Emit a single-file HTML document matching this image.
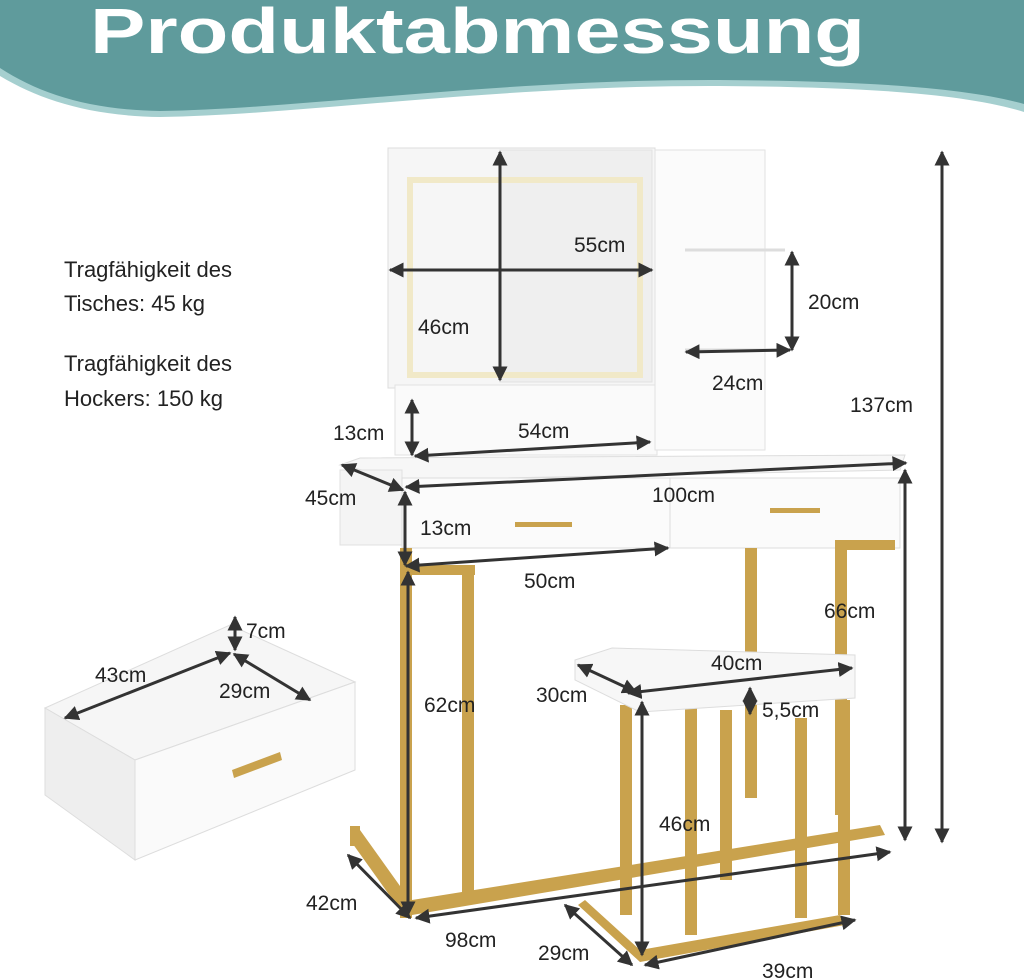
<!DOCTYPE html>
<html><head><meta charset="utf-8"><style>
html,body{margin:0;padding:0;background:#fff;}
svg{display:block;}
text{font-family:"Liberation Sans",sans-serif;fill:#222;}
</style></head><body>
<svg width="1024" height="980" viewBox="0 0 1024 980" xmlns="http://www.w3.org/2000/svg">
<defs>
<marker id="a" viewBox="0 0 10 10" refX="9" refY="5" markerWidth="5" markerHeight="5" orient="auto-start-reverse"><path d="M0,0 L10,5 L0,10 z" fill="#333"/></marker>
</defs>
<!-- banner -->
<path d="M0,76 C40,100 90,116 160,117 C300,115 500,85 720,86 C850,87 960,92 1024,112 L1024,0 L0,0 Z" fill="#a5cfcf"/>
<path d="M0,68 C40,94 90,110 160,111 C300,109 500,79 720,80 C850,81 960,86 1024,104 L1024,0 L0,0 Z" fill="#5f9b9c"/>
<text x="90" y="53" font-size="64" font-weight="bold" style="fill:#fff" textLength="775" lengthAdjust="spacingAndGlyphs">Produktabmessung</text>

<!-- mirror cabinet -->
<rect x="388" y="148" width="267" height="240" fill="#f6f6f6" stroke="#ddd"/>
<rect x="500" y="150" width="152" height="232" fill="#efefef" stroke="#e2e2e2"/>
<rect x="410" y="180" width="230" height="195" fill="none" stroke="#f1e9c8" stroke-width="6"/>
<rect x="395" y="385" width="262" height="70" fill="#fafafa" stroke="#e2e2e2"/>
<rect x="655" y="150" width="110" height="300" fill="#fbfbfb" stroke="#e2e2e2"/>
<line x1="685" y1="250" x2="785" y2="250" stroke="#ddd" stroke-width="3"/>
<line x1="685" y1="350" x2="785" y2="350" stroke="#ddd" stroke-width="3"/>
<!-- desk top -->
<polygon points="340,465 360,458 905,455 900,470 405,480" fill="#f7f7f7" stroke="#ddd"/>
<rect x="340" y="470" width="62" height="75" fill="#f4f4f4" stroke="#e0e0e0"/>
<rect x="402" y="478" width="498" height="70" fill="#fbfbfb" stroke="#ddd"/>
<line x1="670" y1="478" x2="670" y2="548" stroke="#ddd"/>
<rect x="515" y="522" width="57" height="5" fill="#c9a24d"/>
<rect x="770" y="508" width="50" height="5" fill="#c9a24d"/>
<!-- desk legs -->
<g fill="#c9a24d">
<rect x="400" y="548" width="12" height="370"/>
<rect x="462" y="570" width="12" height="330"/>
<rect x="400" y="565" width="75" height="10"/>
<rect x="745" y="548" width="12" height="250"/>
<rect x="835" y="545" width="12" height="270"/>
<rect x="835" y="540" width="60" height="10"/>
<polygon points="412,900 880,825 885,835 412,915"/>
<polygon points="360,830 410,900 400,910 350,840"/>
<rect x="350" y="826" width="10" height="20"/>
<!-- stool legs -->
<rect x="620" y="705" width="12" height="210"/>
<rect x="685" y="705" width="12" height="230"/>
<rect x="720" y="710" width="12" height="170"/>
<rect x="795" y="718" width="12" height="200"/>
<rect x="838" y="700" width="12" height="215"/>
<polygon points="585,900 640,950 840,915 845,925 640,962 578,905"/>
</g>
<!-- stool seat -->
<polygon points="575,660 612,648 855,655 855,698 640,712 575,680" fill="#f7f7f7" stroke="#ddd"/>
<!-- drawer box -->
<polygon points="45,708 230,625 355,682 135,760" fill="#f6f6f6" stroke="#ddd"/>
<polygon points="45,708 135,760 135,860 45,795" fill="#eeeeee" stroke="#ddd"/>
<polygon points="135,760 355,682 355,770 135,860" fill="#fafafa" stroke="#ddd"/>
<polygon points="232,770 280,752 282,760 234,778" fill="#c9a24d"/>

<!-- dimension lines -->
<g stroke="#333" stroke-width="3" fill="none" marker-start="url(#a)" marker-end="url(#a)">
<line x1="390" y1="270" x2="652" y2="270"/>
<line x1="500" y1="152" x2="500" y2="380"/>
<line x1="792" y1="252" x2="792" y2="350"/>
<line x1="686" y1="352" x2="790" y2="350"/>
<line x1="942" y1="152" x2="942" y2="842"/>
<line x1="412" y1="400" x2="412" y2="455"/>
<line x1="415" y1="456" x2="650" y2="442"/>
<line x1="342" y1="465" x2="403" y2="490"/>
<line x1="406" y1="487" x2="906" y2="463"/>
<line x1="405" y1="492" x2="405" y2="565"/>
<line x1="406" y1="566" x2="668" y2="548"/>
<line x1="905" y1="470" x2="905" y2="840"/>
<line x1="408" y1="572" x2="408" y2="915"/>
<line x1="348" y1="855" x2="410" y2="918"/>
<line x1="416" y1="918" x2="890" y2="852"/>
<line x1="565" y1="905" x2="632" y2="965"/>
<line x1="645" y1="965" x2="855" y2="920"/>
<line x1="642" y1="702" x2="642" y2="955"/>
<line x1="628" y1="693" x2="852" y2="668"/>
<line x1="578" y1="665" x2="636" y2="692"/>
<line x1="750" y1="688" x2="750" y2="714"/>
<line x1="235" y1="617" x2="235" y2="650"/>
<line x1="65" y1="718" x2="230" y2="653"/>
<line x1="234" y1="654" x2="310" y2="700"/>
</g>

<!-- labels -->
<g font-size="21">
<text x="574" y="252">55cm</text>
<text x="418" y="334">46cm</text>
<text x="808" y="309">20cm</text>
<text x="712" y="390">24cm</text>
<text x="850" y="412">137cm</text>
<text x="333" y="440">13cm</text>
<text x="518" y="438">54cm</text>
<text x="305" y="505">45cm</text>
<text x="652" y="502">100cm</text>
<text x="420" y="535">13cm</text>
<text x="524" y="588">50cm</text>
<text x="824" y="618">66cm</text>
<text x="246" y="638">7cm</text>
<text x="95" y="682">43cm</text>
<text x="711" y="670">40cm</text>
<text x="219" y="698">29cm</text>
<text x="536" y="702">30cm</text>
<text x="762" y="717">5,5cm</text>
<text x="424" y="712">62cm</text>
<text x="659" y="831">46cm</text>
<text x="306" y="910">42cm</text>
<text x="445" y="947">98cm</text>
<text x="538" y="960">29cm</text>
<text x="762" y="978">39cm</text>
</g>
<g font-size="22">
<text x="64" y="277">Tragfähigkeit des</text>
<text x="64" y="311">Tisches: 45 kg</text>
<text x="64" y="371">Tragfähigkeit des</text>
<text x="64" y="406">Hockers: 150 kg</text>
</g>
</svg>
</body></html>
